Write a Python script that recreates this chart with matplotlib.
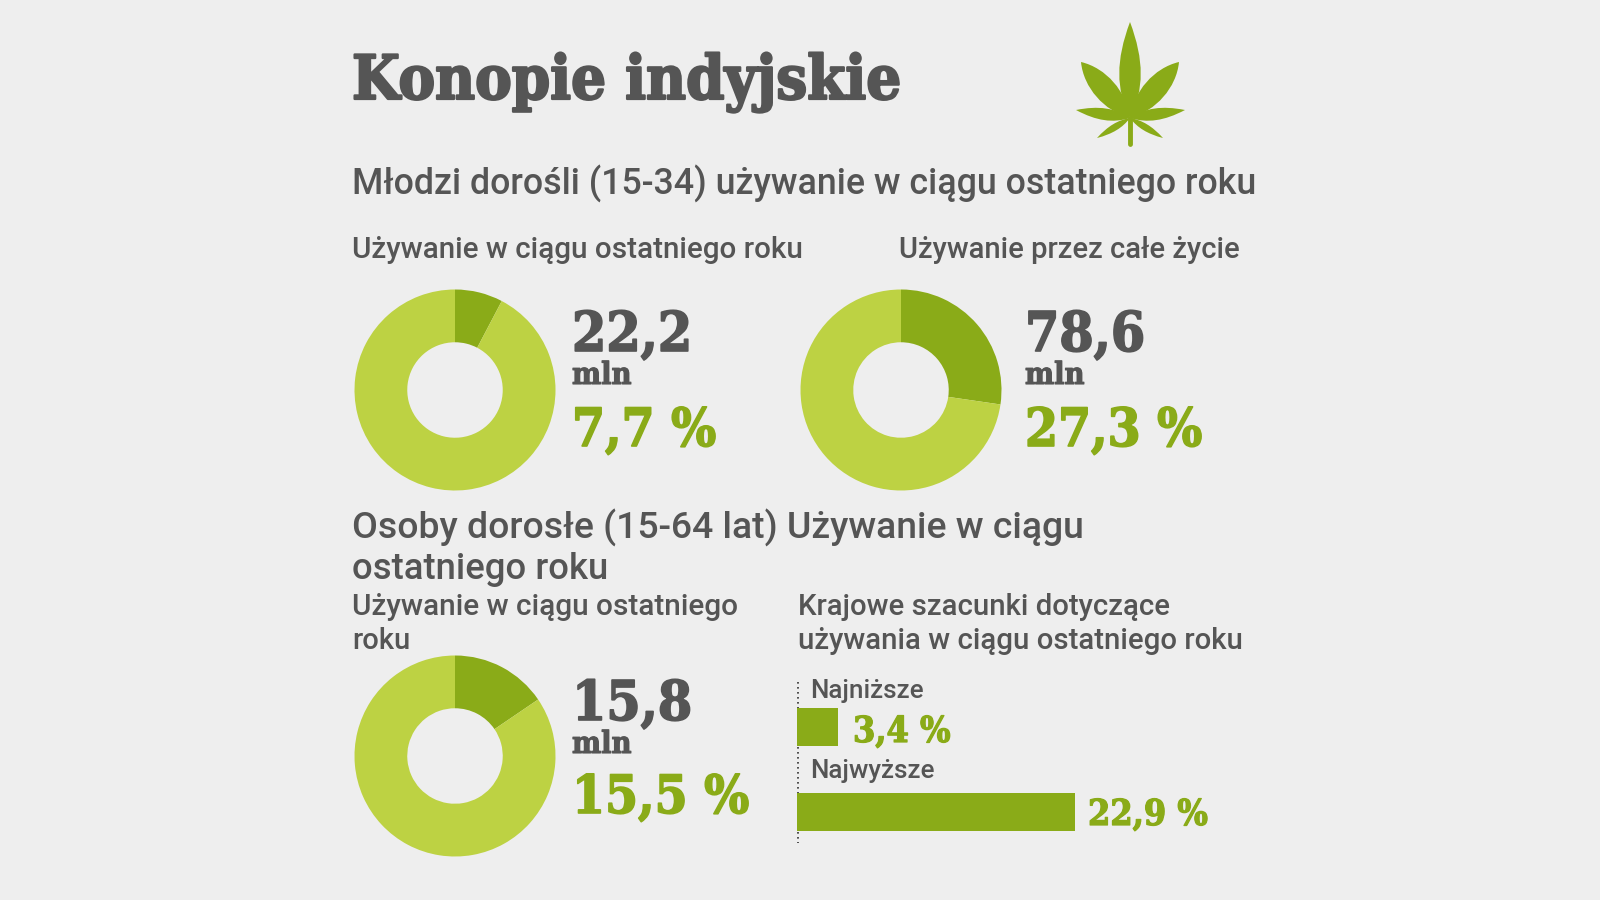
import matplotlib
matplotlib.use("Agg")
import matplotlib.pyplot as plt
import matplotlib.patheffects as pe
import numpy as np
from matplotlib.patches import PathPatch
from matplotlib.path import Path

# values
donut_shares = [7.7, 27.3, 15.5]
donut_mln = ["22,2", "78,6", "15,8"]
donut_pct = ["7,7 %", "27,3 %", "15,5 %"]
bar_labels = ["Najniższe", "Najwyższe"]
bar_values = [3.4, 22.9]
bar_texts = ["3,4 %", "22,9 %"]

BG = "#EEEEEE"
DARK = "#8AAB18"
LIGHT = "#BDD243"
GREY = "#555555"
SANS = "Roboto"
SLAB = "DejaVu Serif"

fig = plt.figure(figsize=(16, 9), dpi=100, facecolor=BG)

# full figure axes in pixels, y going down
ax = fig.add_axes([0, 0, 1, 1])
ax.set_xlim(0, 1600)
ax.set_ylim(900, 0)
ax.axis("off")


def label(x, y, s, size, color=GREY, family=SANS, weight="medium", stretch="normal"):
    return ax.text(x, y, s, fontsize=size, color=color, family=family, weight=weight,
                   stretch=stretch, va="baseline", ha="left")


def slab(x, y, s, size, color=GREY, stroke=1.2):
    # thicken the condensed bold, the original slab is heavier
    t = label(x, y, s, size, color=color, family=SLAB, weight="bold", stretch="condensed")
    t.set_path_effects([pe.withStroke(linewidth=stroke, foreground=color)])


def donut(cx, cy, share):
    r = 100.5
    a = fig.add_axes([(cx - r) / 1600, 1 - (cy + r) / 900, 2 * r / 1600, 2 * r / 900])
    a.pie([share, 100 - share], colors=[DARK, LIGHT], startangle=90, counterclock=False,
          radius=1, wedgeprops={"width": 0.525, "linewidth": 0})
    a.set_xlim(-1, 1)
    a.set_ylim(-1, 1)


def leaflet(base, tip, hw, mid=0.6):
    base = np.array(base, float)
    tip = np.array(tip, float)
    d = tip - base
    n = np.array([-d[1], d[0]]) / np.hypot(*d)
    c1 = base + 0.3 * d
    c2 = base + mid * d
    verts = [base, c1 + n * hw * 1.3, c2 + n * hw * 1.3, tip, c2 - n * hw * 1.3, c1 - n * hw * 1.3, base]
    codes = [Path.MOVETO] + [Path.CURVE4] * 6
    ax.add_patch(PathPatch(Path(verts, codes), fc=DARK, ec="none"))


# cannabis leaf icon
leaf_c = (1130, 118)
leaflet(leaf_c, (1130, 22), 11)
leaflet(leaf_c, (1081, 62), 11.5, mid=0.72)
leaflet(leaf_c, (1179, 62), 11.5, mid=0.72)
leaflet(leaf_c, (1076, 110), 6)
leaflet(leaf_c, (1185, 110), 6)
leaflet(leaf_c, (1097, 138), 3.5)
leaflet(leaf_c, (1163, 138), 3.5)
ax.plot([1130, 1130], [118, 144], color=DARK, lw=3.5, solid_capstyle="round")

# headings
slab(352, 99, "Konopie indyjskie", 44, stroke=1.6)
label(352, 195, "Młodzi dorośli (15-34) używanie w ciągu ostatniego roku", 25.75)
label(352, 258, "Używanie w ciągu ostatniego roku", 21.3)
label(899, 258, "Używanie przez całe życie", 21.1)
label(352, 539, "Osoby dorosłe (15-64 lat) Używanie w ciągu", 26.9)
label(352, 579, "ostatniego roku", 26.3)
label(352, 615, "Używanie w ciągu ostatniego", 21.4)
label(352, 649, "roku", 21)
label(798, 615, "Krajowe szacunki dotyczące", 21.2)
label(798, 649, "używania w ciągu ostatniego roku", 21.2)

# donuts with their numbers
donut(455, 390, donut_shares[0])
donut(901, 390, donut_shares[1])
donut(455, 756, donut_shares[2])

num_pos = [(572, 351, 384, 446), (1025, 351, 384, 446), (572, 720, 753, 813)]
for i, (x, y1, y2, y3) in enumerate(num_pos):
    slab(x, y1, donut_mln[i], 39.5)
    slab(x, y2, "mln", 22, stroke=0.8)
    slab(x, y3, donut_pct[i], 38, color=DARK)

# bars, one unit = 12.14 px
bx = fig.add_axes([797 / 1600, 1 - 843 / 900, 400 / 1600, 161 / 900])
bx.set_xlim(0, 400 / 12.14)
bx.set_ylim(843, 682)
bx.axis("off")
bx.barh([727.5, 812], bar_values, height=38, color=DARK, linewidth=0)
ax.plot([797.5, 797.5], [682, 843], color="#333333", lw=1.2, ls=(0, (1, 2)), zorder=5)

label(810, 698, bar_labels[0], 18.7)
label(810, 778, bar_labels[1], 18.7)
slab(853, 742, bar_texts[0], 25.7, color=DARK, stroke=0.9)
slab(1088, 825, bar_texts[1], 25.7, color=DARK, stroke=0.9)

fig.savefig("out.png", dpi=100, facecolor=BG)
